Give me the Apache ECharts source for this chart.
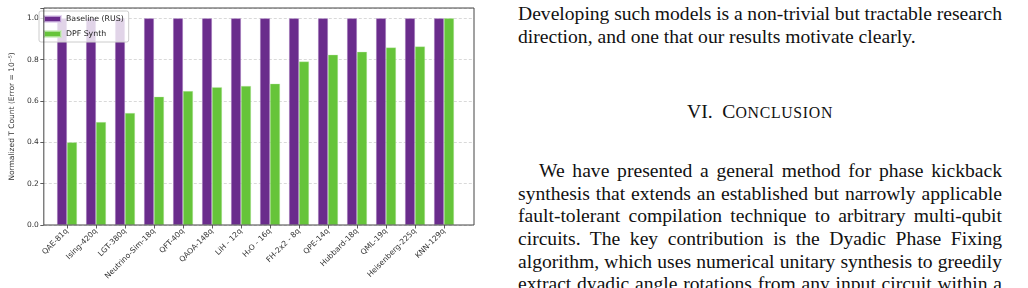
<!DOCTYPE html>
<html lang="en">
<head>
  <meta charset="UTF-8">
  <title>T count comparison</title>
  <script src="https://cdn.jsdelivr.net/npm/echarts@6.0.0/dist/echarts.min.js"></script>
  <style>
    html, body { margin: 0; padding: 0; width: 1028px; height: 288px; overflow: hidden; background: #fff; }
    #main { position: absolute; left: 0; top: 0; width: 490px; height: 288px; }
    .ln { position: absolute; left: 518px; width: 484px; height: 23px; line-height: 23px;
          font-family: 'Liberation Serif', 'Times New Roman', serif; font-size: 19.6px; color: #111;
          white-space: nowrap; word-spacing: -2px; text-align: justify; text-align-last: justify; }
    .last { text-align: left; text-align-last: left; word-spacing: 0; }
    .head { text-align: center; text-align-last: center; word-spacing: 0; }
    .sc { font-size: 15.8px; letter-spacing: 0.7px; }
  </style>
</head>
<body>
<div id="main"></div>

<div class="ln" style="top:2.4px">Developing such models is a non-trivial but tractable research</div>
<div class="ln last" style="top:25.1px">direction, and one that our results motivate clearly.</div>
<div class="ln head" style="top:100px">VI.&nbsp; C<span class="sc">ONCLUSION</span></div>
<div class="ln" style="top:159px; left:539px; width:463px">We have presented a general method for phase kickback</div>
<div class="ln" style="top:181.6px">synthesis that extends an established but narrowly applicable</div>
<div class="ln" style="top:204.3px">fault-tolerant compilation technique to arbitrary multi-qubit</div>
<div class="ln" style="top:227px">circuits. The key contribution is the Dyadic Phase Fixing</div>
<div class="ln" style="top:249.7px">algorithm, which uses numerical unitary synthesis to greedily</div>
<div class="ln" style="top:272.4px">extract dyadic angle rotations from any input circuit within a</div>

<script type="text/javascript">
  // benchmark circuits
  const categories = [
    'QAE-81q', 'Ising-420q', 'LGT-380q', 'Neutrino-Sim-18q', 'QFT-40q',
    'QAOA-148q', 'LiH - 12q', 'H₂O - 16q', 'FH-2x2 - 8q', 'QPE-14q',
    'Hubbard-18q', 'QML-19q', 'Heisenberg-225q', 'KNN-129q'
  ];
  // normalized T counts
  const baseline = [1, 1, 1, 1, 1, 1, 1, 1, 1, 1, 1, 1, 1, 1];
  const dpfSynth = [0.400, 0.498, 0.542, 0.621, 0.648, 0.667, 0.673,
                    0.684, 0.791, 0.824, 0.838, 0.859, 0.864, 1.000];
  const yTicks = [0, 0.2, 0.4, 0.6, 0.8, 1.0];

  const font = 'DejaVu Sans';
  const myChart = echarts.init(document.getElementById('main'));

  myChart.setOption({
    animation: false,
    grid: [
      // frame + gridlines
      { left: 36, top: 8, width: 438, height: 217, show: true, z: 10,
        borderColor: '#444', borderWidth: 1, backgroundColor: 'rgba(0,0,0,0)' },
      // bars
      { left: 52.5, top: 8, width: 406, height: 217 }
    ],
    legend: {
      orient: 'vertical',
      left: 39, top: 11,
      padding: [4, 5, 4, 4],
      itemGap: 7, itemWidth: 17, itemHeight: 6,
      icon: 'rect',
      backgroundColor: 'rgba(255,255,255,0.8)',
      borderColor: '#ccc', borderWidth: 1, borderRadius: 2,
      textStyle: { fontFamily: font, fontSize: 7.8, color: '#222' },
      data: ['Baseline (RUS)', 'DPF Synth']
    },
    xAxis: [
      { type: 'value', gridIndex: 0, min: 0, max: 1, show: false },
      {
        type: 'category', gridIndex: 1, data: categories,
        axisLine: { show: false },
        axisTick: { show: true, alignWithLabel: true, length: 3.5, lineStyle: { color: '#333', width: 0.8 } },
        axisLabel: { interval: 0, rotate: 45, margin: 5, fontFamily: font, fontSize: 7.6, color: '#333' }
      }
    ],
    yAxis: [
      {
        type: 'value', gridIndex: 0, min: 0, max: 1.05, interval: 0.2,
        name: 'Normalized T Count (Error = 10⁻⁵)',
        nameLocation: 'middle', nameGap: 24, nameRotate: 90,
        nameTextStyle: { fontFamily: font, fontSize: 7.5, color: '#333' },
        axisLine: { show: false },
        axisTick: { show: true, length: 3.5, lineStyle: { color: '#333', width: 0.8 } },
        axisLabel: {
          margin: 5, fontFamily: font, fontSize: 7.5, color: '#333',
          formatter: function (v) {
            return yTicks.some(function (t) { return Math.abs(t - v) < 1e-6; }) ? v.toFixed(1) : '';
          }
        },
        splitLine: { show: true, lineStyle: { color: '#cfcfcf', width: 0.8, type: [3, 2] } }
      },
      { type: 'value', gridIndex: 1, min: 0, max: 1.05, show: false }
    ],
    series: [
      {
        name: 'Baseline (RUS)', type: 'bar', xAxisIndex: 1, yAxisIndex: 1,
        data: baseline, barWidth: 10, barGap: '0%',
        itemStyle: { color: '#6a2c8c', borderColor: 'rgba(220,200,235,0.7)', borderWidth: 0.5 }
      },
      {
        name: 'DPF Synth', type: 'bar', xAxisIndex: 1, yAxisIndex: 1,
        data: dpfSynth, barWidth: 10, barGap: '0%',
        itemStyle: { color: '#66c43a', borderColor: 'rgba(200,235,185,0.7)', borderWidth: 0.5 }
      }
    ]
  });
</script>
</body>
</html>
